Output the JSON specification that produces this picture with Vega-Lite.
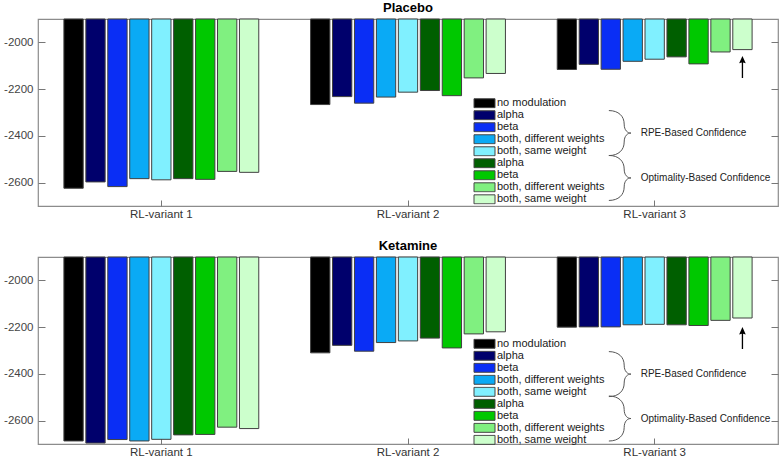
{
  "$schema": "https://vega.github.io/schema/vega-lite/v6.json",
  "padding": {"left": 2, "top": 0, "right": 0, "bottom": 0},
  "spacing": 17,
  "datasets": {
    "bars": [
      {"panel": "Placebo", "group": "RL-variant 1", "model": "no modulation", "value": -2624},
      {"panel": "Placebo", "group": "RL-variant 1", "model": "RPE: alpha", "value": -2597},
      {"panel": "Placebo", "group": "RL-variant 1", "model": "RPE: beta", "value": -2617},
      {"panel": "Placebo", "group": "RL-variant 1", "model": "RPE: both, different weights", "value": -2583},
      {"panel": "Placebo", "group": "RL-variant 1", "model": "RPE: both, same weight", "value": -2588},
      {"panel": "Placebo", "group": "RL-variant 1", "model": "Opt: alpha", "value": -2583},
      {"panel": "Placebo", "group": "RL-variant 1", "model": "Opt: beta", "value": -2586},
      {"panel": "Placebo", "group": "RL-variant 1", "model": "Opt: both, different weights", "value": -2552},
      {"panel": "Placebo", "group": "RL-variant 1", "model": "Opt: both, same weight", "value": -2556},
      {"panel": "Placebo", "group": "RL-variant 2", "model": "no modulation", "value": -2266},
      {"panel": "Placebo", "group": "RL-variant 2", "model": "RPE: alpha", "value": -2232},
      {"panel": "Placebo", "group": "RL-variant 2", "model": "RPE: beta", "value": -2260},
      {"panel": "Placebo", "group": "RL-variant 2", "model": "RPE: both, different weights", "value": -2234},
      {"panel": "Placebo", "group": "RL-variant 2", "model": "RPE: both, same weight", "value": -2213},
      {"panel": "Placebo", "group": "RL-variant 2", "model": "Opt: alpha", "value": -2206},
      {"panel": "Placebo", "group": "RL-variant 2", "model": "Opt: beta", "value": -2228},
      {"panel": "Placebo", "group": "RL-variant 2", "model": "Opt: both, different weights", "value": -2152},
      {"panel": "Placebo", "group": "RL-variant 2", "model": "Opt: both, same weight", "value": -2133},
      {"panel": "Placebo", "group": "RL-variant 3", "model": "no modulation", "value": -2116},
      {"panel": "Placebo", "group": "RL-variant 3", "model": "RPE: alpha", "value": -2094},
      {"panel": "Placebo", "group": "RL-variant 3", "model": "RPE: beta", "value": -2115},
      {"panel": "Placebo", "group": "RL-variant 3", "model": "RPE: both, different weights", "value": -2081},
      {"panel": "Placebo", "group": "RL-variant 3", "model": "RPE: both, same weight", "value": -2072},
      {"panel": "Placebo", "group": "RL-variant 3", "model": "Opt: alpha", "value": -2062},
      {"panel": "Placebo", "group": "RL-variant 3", "model": "Opt: beta", "value": -2092},
      {"panel": "Placebo", "group": "RL-variant 3", "model": "Opt: both, different weights", "value": -2041},
      {"panel": "Placebo", "group": "RL-variant 3", "model": "Opt: both, same weight", "value": -2031},
      {"panel": "Ketamine", "group": "RL-variant 1", "model": "no modulation", "value": -2687},
      {"panel": "Ketamine", "group": "RL-variant 1", "model": "RPE: alpha", "value": -2696},
      {"panel": "Ketamine", "group": "RL-variant 1", "model": "RPE: beta", "value": -2681},
      {"panel": "Ketamine", "group": "RL-variant 1", "model": "RPE: both, different weights", "value": -2687},
      {"panel": "Ketamine", "group": "RL-variant 1", "model": "RPE: both, same weight", "value": -2680},
      {"panel": "Ketamine", "group": "RL-variant 1", "model": "Opt: alpha", "value": -2661},
      {"panel": "Ketamine", "group": "RL-variant 1", "model": "Opt: beta", "value": -2659},
      {"panel": "Ketamine", "group": "RL-variant 1", "model": "Opt: both, different weights", "value": -2628},
      {"panel": "Ketamine", "group": "RL-variant 1", "model": "Opt: both, same weight", "value": -2634},
      {"panel": "Ketamine", "group": "RL-variant 2", "model": "no modulation", "value": -2310},
      {"panel": "Ketamine", "group": "RL-variant 2", "model": "RPE: alpha", "value": -2278},
      {"panel": "Ketamine", "group": "RL-variant 2", "model": "RPE: beta", "value": -2303},
      {"panel": "Ketamine", "group": "RL-variant 2", "model": "RPE: both, different weights", "value": -2266},
      {"panel": "Ketamine", "group": "RL-variant 2", "model": "RPE: both, same weight", "value": -2259},
      {"panel": "Ketamine", "group": "RL-variant 2", "model": "Opt: alpha", "value": -2247},
      {"panel": "Ketamine", "group": "RL-variant 2", "model": "Opt: beta", "value": -2289},
      {"panel": "Ketamine", "group": "RL-variant 2", "model": "Opt: both, different weights", "value": -2229},
      {"panel": "Ketamine", "group": "RL-variant 2", "model": "Opt: both, same weight", "value": -2220},
      {"panel": "Ketamine", "group": "RL-variant 3", "model": "no modulation", "value": -2200},
      {"panel": "Ketamine", "group": "RL-variant 3", "model": "RPE: alpha", "value": -2199},
      {"panel": "Ketamine", "group": "RL-variant 3", "model": "RPE: beta", "value": -2199},
      {"panel": "Ketamine", "group": "RL-variant 3", "model": "RPE: both, different weights", "value": -2190},
      {"panel": "Ketamine", "group": "RL-variant 3", "model": "RPE: both, same weight", "value": -2188},
      {"panel": "Ketamine", "group": "RL-variant 3", "model": "Opt: alpha", "value": -2190},
      {"panel": "Ketamine", "group": "RL-variant 3", "model": "Opt: beta", "value": -2193},
      {"panel": "Ketamine", "group": "RL-variant 3", "model": "Opt: both, different weights", "value": -2171},
      {"panel": "Ketamine", "group": "RL-variant 3", "model": "Opt: both, same weight", "value": -2161}
    ],
    "notes": [
      {"panel": "Placebo", "kind": "brace", "group": "RL-variant 3", "model": "RPE: both, different weights", "y": -2388, "label": ""},
      {"panel": "Placebo", "kind": "brace", "group": "RL-variant 3", "model": "RPE: both, different weights", "y": -2580, "label": ""},
      {"panel": "Placebo", "kind": "text", "group": "RL-variant 3", "model": "RPE: both, different weights", "y": -2388, "label": "RPE-Based Confidence"},
      {"panel": "Placebo", "kind": "text", "group": "RL-variant 3", "model": "RPE: both, different weights", "y": -2580, "label": "Optimality-Based Confidence"},
      {"panel": "Placebo", "kind": "arrow", "group": "RL-variant 3", "model": "Opt: both, same weight", "y": -2105, "label": ""},
      {"panel": "Ketamine", "kind": "brace", "group": "RL-variant 3", "model": "RPE: both, different weights", "y": -2401, "label": ""},
      {"panel": "Ketamine", "kind": "brace", "group": "RL-variant 3", "model": "RPE: both, different weights", "y": -2591, "label": ""},
      {"panel": "Ketamine", "kind": "text", "group": "RL-variant 3", "model": "RPE: both, different weights", "y": -2401, "label": "RPE-Based Confidence"},
      {"panel": "Ketamine", "kind": "text", "group": "RL-variant 3", "model": "RPE: both, different weights", "y": -2591, "label": "Optimality-Based Confidence"},
      {"panel": "Ketamine", "kind": "arrow", "group": "RL-variant 3", "model": "Opt: both, same weight", "y": -2247, "label": ""}
    ]
  },
  "config": {
    "font": "Liberation Sans",
    "view": {"stroke": "#8c8c8c", "strokeWidth": 1.2},
    "axis": {"grid": false, "domain": false, "tickColor": "#777", "labelFont": "Liberation Sans", "labelColor": "#444", "labelFontSize": 11.5},
    "title": {"fontSize": 13, "fontWeight": "bold", "font": "Liberation Sans", "color": "#000", "offset": 4, "anchor": "middle"},
    "legend": {"padding": 0}
  },
  "resolve": {"scale": {"color": "independent"}, "legend": {"color": "independent"}},
  "vconcat": [
    {
      "title": {"text": "Placebo"},
      "width": 740,
      "height": 187,
      "resolve": {"axis": {"y": "independent"}},
      "layer": [
        {
          "data": {"name": "bars"},
          "transform": [{"filter": "datum.panel === 'Placebo'"}],
          "mark": {"type": "bar", "stroke": "#404040", "strokeWidth": 1},
          "encoding": {
            "x": {"field": "group", "type": "nominal", "scale": {"paddingInner": 0.21, "paddingOuter": 0.105}, "axis": {"title": null, "labelAngle": 0, "tickSize": -6, "labelPadding": 8, "labelColor": "#333"}},
            "xOffset": {"field": "model", "type": "nominal", "scale": {"domain": ["no modulation", "RPE: alpha", "RPE: beta", "RPE: both, different weights", "RPE: both, same weight", "Opt: alpha", "Opt: beta", "Opt: both, different weights", "Opt: both, same weight"], "paddingInner": 0.12, "paddingOuter": 0}},
            "y": {"field": "value", "type": "quantitative", "scale": {"domain": [-2700, -1900], "nice": false, "zero": false}, "axis": {"title": null, "values": [-2600, -2400, -2200, -2000], "labelExpr": "'' + datum.value", "tickSize": -7, "labelPadding": 12}},
            "y2": {"datum": -1900},
            "color": {
              "field": "model", "type": "nominal",
              "scale": {"domain": ["no modulation", "RPE: alpha", "RPE: beta", "RPE: both, different weights", "RPE: both, same weight", "Opt: alpha", "Opt: beta", "Opt: both, different weights", "Opt: both, same weight"], "range": ["#000000", "#00006c", "#0a2ef5", "#0aaaf5", "#80f0ff", "#005f00", "#00c800", "#80f080", "#ccffcc"]},
              "legend": {"orient": "none", "legendX": 435, "legendY": 79, "title": null, "labelExpr": "replace(replace(datum.label, 'RPE: ', ''), 'Opt: ', '')", "symbolType": "M-1,-1H3.667V1H-1Z", "symbolSize": 81, "symbolStrokeWidth": 1, "symbolStrokeColor": "#444", "labelOffset": 13, "labelFont": "Liberation Sans", "labelFontSize": 11, "labelColor": "#1a1a1a", "labelLimit": 300, "rowPadding": 0.01, "clipHeight": 10.5}
            }
          }
        },
        {
          "data": {"name": "notes"},
          "transform": [{"filter": "datum.panel === 'Placebo' && datum.kind === 'brace'"}],
          "mark": {"type": "point", "shape": "M-1.06,-1C-0.63,-1 -0.38,-0.75 -0.38,-0.4C-0.38,-0.12 -0.23,0 -0.08,0C-0.23,0 -0.38,0.12 -0.38,0.4C-0.38,0.75 -0.63,1 -1.06,1", "size": 2025, "filled": false, "stroke": "#555", "strokeWidth": 1, "opacity": 1},
          "encoding": {
            "x": {"field": "group", "type": "nominal"},
            "xOffset": {"field": "model", "type": "nominal", "scale": {"domain": ["no modulation", "RPE: alpha", "RPE: beta", "RPE: both, different weights", "RPE: both, same weight", "Opt: alpha", "Opt: beta", "Opt: both, different weights", "Opt: both, same weight"], "paddingInner": 0.12, "paddingOuter": 0}},
            "y": {"field": "y", "type": "quantitative", "scale": {"domain": [-2700, -1900], "nice": false, "zero": false}, "axis": null}
          }
        },
        {
          "data": {"name": "notes"},
          "transform": [{"filter": "datum.panel === 'Placebo' && datum.kind === 'text'"}],
          "mark": {"type": "text", "align": "left", "baseline": "middle", "dx": 8, "fontSize": 10, "font": "Liberation Sans", "color": "#222"},
          "encoding": {
            "x": {"field": "group", "type": "nominal"},
            "xOffset": {"field": "model", "type": "nominal", "scale": {"domain": ["no modulation", "RPE: alpha", "RPE: beta", "RPE: both, different weights", "RPE: both, same weight", "Opt: alpha", "Opt: beta", "Opt: both, different weights", "Opt: both, same weight"], "paddingInner": 0.12, "paddingOuter": 0}},
            "y": {"field": "y", "type": "quantitative", "scale": {"domain": [-2700, -1900], "nice": false, "zero": false}, "axis": null},
            "text": {"field": "label"}
          }
        },
        {
          "data": {"name": "notes"},
          "transform": [{"filter": "datum.panel === 'Placebo' && datum.kind === 'arrow'"}],
          "mark": {"type": "point", "shape": "M0,-1L-0.3,-0.33L-0.06,-0.4L-0.06,1L0.06,1L0.06,-0.4L0.3,-0.33Z", "size": 484, "filled": true, "color": "#000", "opacity": 1, "strokeWidth": 0},
          "encoding": {
            "x": {"field": "group", "type": "nominal"},
            "xOffset": {"field": "model", "type": "nominal", "scale": {"domain": ["no modulation", "RPE: alpha", "RPE: beta", "RPE: both, different weights", "RPE: both, same weight", "Opt: alpha", "Opt: beta", "Opt: both, different weights", "Opt: both, same weight"], "paddingInner": 0.12, "paddingOuter": 0}},
            "y": {"field": "y", "type": "quantitative", "scale": {"domain": [-2700, -1900], "nice": false, "zero": false}, "axis": {"orient": "right", "title": null, "labels": false, "values": [-2600, -2400, -2200, -2000], "tickSize": -7}}
          }
        }
      ]
    },
    {
      "title": {"text": "Ketamine"},
      "width": 740,
      "height": 187,
      "resolve": {"axis": {"y": "independent"}},
      "layer": [
        {
          "data": {"name": "bars"},
          "transform": [{"filter": "datum.panel === 'Ketamine'"}],
          "mark": {"type": "bar", "stroke": "#404040", "strokeWidth": 1},
          "encoding": {
            "x": {"field": "group", "type": "nominal", "scale": {"paddingInner": 0.21, "paddingOuter": 0.105}, "axis": {"title": null, "labelAngle": 0, "tickSize": -6, "labelPadding": 8, "labelColor": "#333"}},
            "xOffset": {"field": "model", "type": "nominal", "scale": {"domain": ["no modulation", "RPE: alpha", "RPE: beta", "RPE: both, different weights", "RPE: both, same weight", "Opt: alpha", "Opt: beta", "Opt: both, different weights", "Opt: both, same weight"], "paddingInner": 0.12, "paddingOuter": 0}},
            "y": {"field": "value", "type": "quantitative", "scale": {"domain": [-2700, -1900], "nice": false, "zero": false}, "axis": {"title": null, "values": [-2600, -2400, -2200, -2000], "labelExpr": "'' + datum.value", "tickSize": -7, "labelPadding": 12}},
            "y2": {"datum": -1900},
            "color": {
              "field": "model", "type": "nominal",
              "scale": {"domain": ["no modulation", "RPE: alpha", "RPE: beta", "RPE: both, different weights", "RPE: both, same weight", "Opt: alpha", "Opt: beta", "Opt: both, different weights", "Opt: both, same weight"], "range": ["#000000", "#00006c", "#0a2ef5", "#0aaaf5", "#80f0ff", "#005f00", "#00c800", "#80f080", "#ccffcc"]},
              "legend": {"orient": "none", "legendX": 435, "legendY": 81.5, "title": null, "labelExpr": "replace(replace(datum.label, 'RPE: ', ''), 'Opt: ', '')", "symbolType": "M-1,-1H3.667V1H-1Z", "symbolSize": 81, "symbolStrokeWidth": 1, "symbolStrokeColor": "#444", "labelOffset": 13, "labelFont": "Liberation Sans", "labelFontSize": 11, "labelColor": "#1a1a1a", "labelLimit": 300, "rowPadding": 0.01, "clipHeight": 10.5}
            }
          }
        },
        {
          "data": {"name": "notes"},
          "transform": [{"filter": "datum.panel === 'Ketamine' && datum.kind === 'brace'"}],
          "mark": {"type": "point", "shape": "M-1.06,-1C-0.63,-1 -0.38,-0.75 -0.38,-0.4C-0.38,-0.12 -0.23,0 -0.08,0C-0.23,0 -0.38,0.12 -0.38,0.4C-0.38,0.75 -0.63,1 -1.06,1", "size": 2025, "filled": false, "stroke": "#555", "strokeWidth": 1, "opacity": 1},
          "encoding": {
            "x": {"field": "group", "type": "nominal"},
            "xOffset": {"field": "model", "type": "nominal", "scale": {"domain": ["no modulation", "RPE: alpha", "RPE: beta", "RPE: both, different weights", "RPE: both, same weight", "Opt: alpha", "Opt: beta", "Opt: both, different weights", "Opt: both, same weight"], "paddingInner": 0.12, "paddingOuter": 0}},
            "y": {"field": "y", "type": "quantitative", "scale": {"domain": [-2700, -1900], "nice": false, "zero": false}, "axis": null}
          }
        },
        {
          "data": {"name": "notes"},
          "transform": [{"filter": "datum.panel === 'Ketamine' && datum.kind === 'text'"}],
          "mark": {"type": "text", "align": "left", "baseline": "middle", "dx": 8, "fontSize": 10, "font": "Liberation Sans", "color": "#222"},
          "encoding": {
            "x": {"field": "group", "type": "nominal"},
            "xOffset": {"field": "model", "type": "nominal", "scale": {"domain": ["no modulation", "RPE: alpha", "RPE: beta", "RPE: both, different weights", "RPE: both, same weight", "Opt: alpha", "Opt: beta", "Opt: both, different weights", "Opt: both, same weight"], "paddingInner": 0.12, "paddingOuter": 0}},
            "y": {"field": "y", "type": "quantitative", "scale": {"domain": [-2700, -1900], "nice": false, "zero": false}, "axis": null},
            "text": {"field": "label"}
          }
        },
        {
          "data": {"name": "notes"},
          "transform": [{"filter": "datum.panel === 'Ketamine' && datum.kind === 'arrow'"}],
          "mark": {"type": "point", "shape": "M0,-1L-0.3,-0.33L-0.06,-0.4L-0.06,1L0.06,1L0.06,-0.4L0.3,-0.33Z", "size": 484, "filled": true, "color": "#000", "opacity": 1, "strokeWidth": 0},
          "encoding": {
            "x": {"field": "group", "type": "nominal"},
            "xOffset": {"field": "model", "type": "nominal", "scale": {"domain": ["no modulation", "RPE: alpha", "RPE: beta", "RPE: both, different weights", "RPE: both, same weight", "Opt: alpha", "Opt: beta", "Opt: both, different weights", "Opt: both, same weight"], "paddingInner": 0.12, "paddingOuter": 0}},
            "y": {"field": "y", "type": "quantitative", "scale": {"domain": [-2700, -1900], "nice": false, "zero": false}, "axis": {"orient": "right", "title": null, "labels": false, "values": [-2600, -2400, -2200, -2000], "tickSize": -7}}
          }
        }
      ]
    }
  ]
}
